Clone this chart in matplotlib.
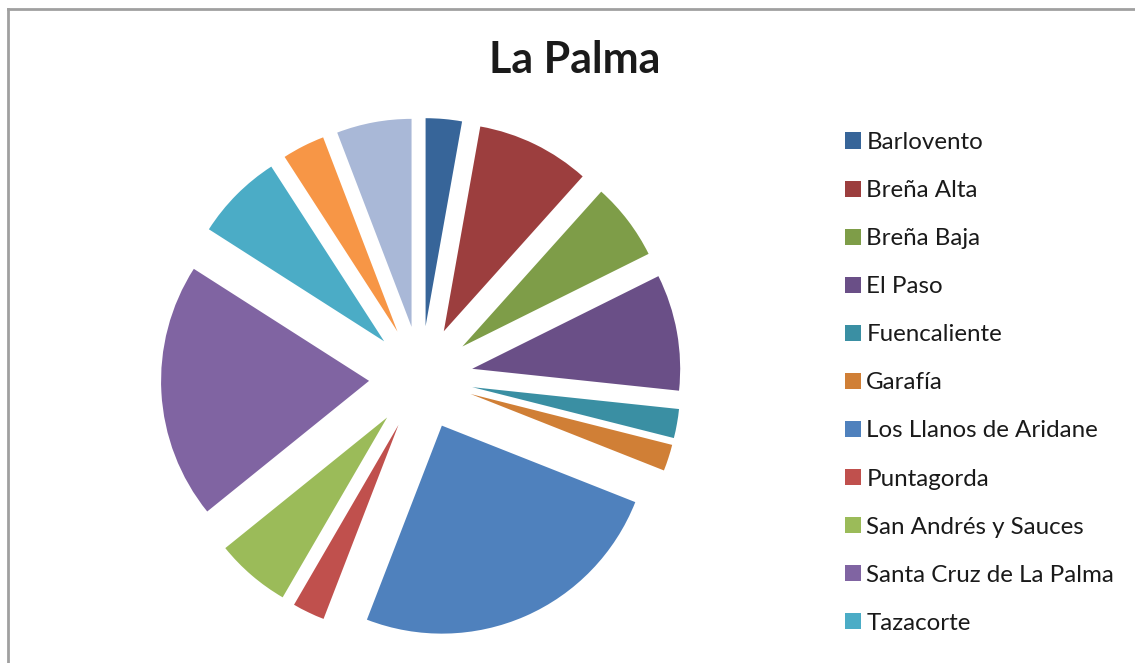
import matplotlib
matplotlib.use("Agg")
import matplotlib.pyplot as plt
from matplotlib.lines import Line2D

# Gemeinden von La Palma, Anteile (ungefaehr, in %)
municipios = ["Barlovento", "Breña Alta", "Breña Baja", "El Paso", "Fuencaliente",
              "Garafía", "Los Llanos de Aridane", "Puntagorda", "San Andrés y Sauces",
              "Santa Cruz de La Palma", "Tazacorte", "Tijarafe", "Villa de Mazo"]
anteil = [2.8, 8.8, 6.0, 9.0, 2.25, 2.05, 24.8, 2.5, 5.8, 19.8, 6.8, 3.3, 5.8]
farben = ["#376599", "#9C3E3E", "#7E9D48", "#6A4F87", "#3A8FA3", "#D07F36",
          "#4F81BD", "#C0504D", "#9BBB59", "#8064A2", "#4BACC6", "#F79646", "#A9B8D7"]
legend_n = 11  # nur 11 Eintraege sind sichtbar

plt.rcParams["font.family"] = ["Lato", "DejaVu Sans"]

W, H = 1135, 663
fig = plt.figure(figsize=(W / 100, H / 100), dpi=100)

# Rahmen (nur oben und links sichtbar)
fig.add_artist(Line2D([7.5 / W, 7.5 / W], [0, 1 - 8.5 / H], color="#a0a0a0", lw=2))
fig.add_artist(Line2D([7.5 / W, 1], [1 - 8.5 / H, 1 - 8.5 / H], color="#a0a0a0", lw=2))

# Kreis: Mitte bei (421, 378) px, Radius 208 px
R = 208
cx, cy = 421, H - 378
size = 3 * R
ax = fig.add_axes([(cx - size / 2) / W, (cy - size / 2) / H, size / W, size / H])
wedges, _ = ax.pie(anteil, colors=farben, startangle=90, counterclock=False,
                   explode=[0.25] * len(anteil), radius=1)
ax.set_xlim(-1.5, 1.5)
ax.set_ylim(-1.5, 1.5)
ax.axis("off")

fig.text(575 / W, 1 - 60 / H, "La Palma", ha="center", va="center",
         fontsize=31, fontweight="bold", color="#1a1a1a")

fig.legend(wedges[:legend_n], municipios[:legend_n], loc="upper left",
           bbox_to_anchor=(833 / W, 1 - 120 / H), frameon=False, fontsize=17.4,
           handlelength=0.66, handleheight=0.66, handletextpad=0.22,
           labelspacing=1.12, borderpad=0, labelcolor="#1a1a1a")

fig.savefig("out.png", dpi=100)
